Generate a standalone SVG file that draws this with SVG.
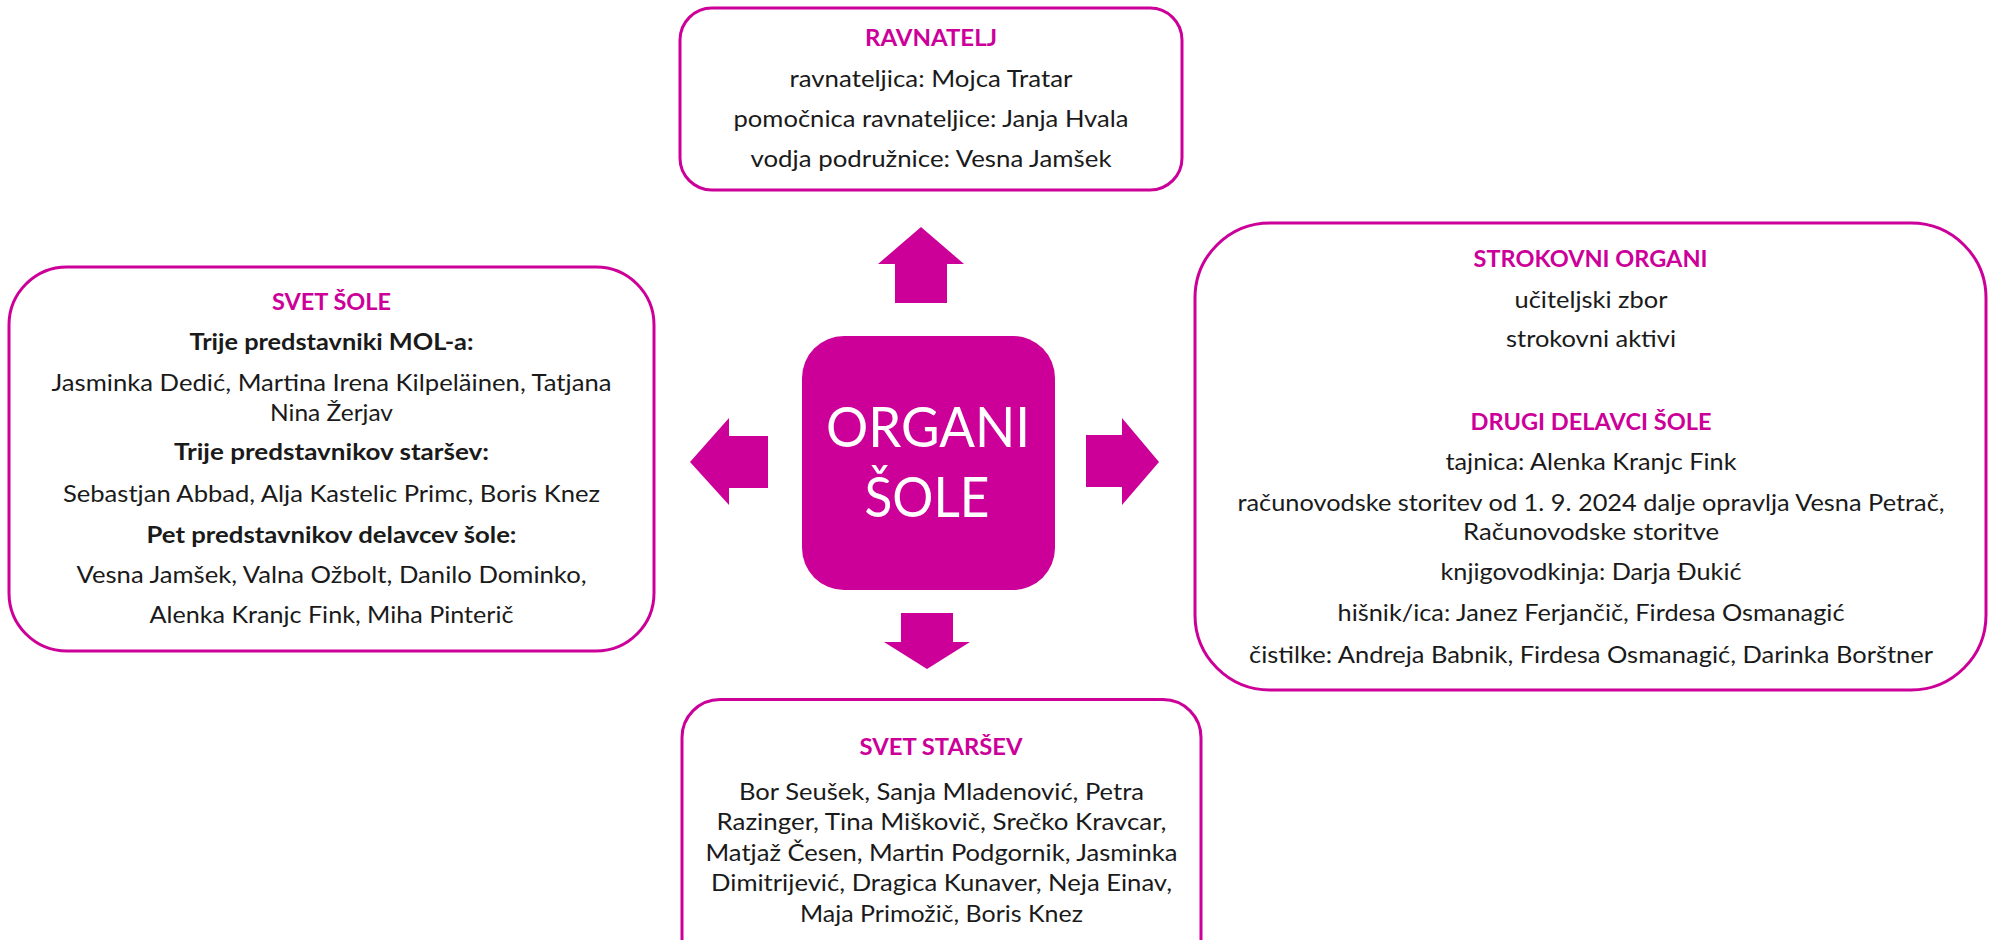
<svg xmlns="http://www.w3.org/2000/svg" width="1993" height="940" viewBox="0 0 1993 940">
<style>
.box{fill:#fff;stroke:#CC0099;stroke-width:3}
.t{font-family:Lato,"Open Sans","Liberation Sans",sans-serif;font-size:23px;fill:#1a1a1a;text-anchor:middle}
.b{font-weight:bold}
.h{font-family:Lato,"Open Sans","Liberation Sans",sans-serif;font-size:23px;font-weight:bold;fill:#CC0099;text-anchor:middle}
.arr{fill:#CC0099}
.c{font-family:Lato,"Open Sans","Liberation Sans",sans-serif;font-size:57px;fill:#fff;text-anchor:middle}
</style>
<rect width="1993" height="940" fill="#fff"/>
<g id="connectors">
<polygon class="arr" points="921,227 964,264 947,264 947,303 895,303 895,264 878,264"/>
<polygon class="arr" points="690,462 729,418 729,436 768,436 768,488 729,488 729,505"/>
<polygon class="arr" points="1159,462 1122,418 1122,435 1086,435 1086,487 1122,487 1122,505"/>
<polygon class="arr" points="927,669 970,642 953,642 953,613 901,613 901,642 884,642"/>
</g>
<g id="center">
<rect x="802" y="336" width="253" height="254" rx="42" fill="#CC0099"/>
<text class="c" x="928" y="447" textLength="204" lengthAdjust="spacingAndGlyphs">ORGANI</text>
<text class="c" x="927" y="517" textLength="125" lengthAdjust="spacingAndGlyphs">ŠOLE</text>
</g>
<g id="ravnatelj">
<rect class="box" x="680" y="8" width="502" height="182" rx="32"/>
<text class="h" x="931" y="46" textLength="132" lengthAdjust="spacingAndGlyphs">RAVNATELJ</text>
<text class="t" x="931" y="87" textLength="283" lengthAdjust="spacingAndGlyphs">ravnateljica: Mojca Tratar</text>
<text class="t" x="931" y="127" textLength="395" lengthAdjust="spacingAndGlyphs">pomočnica ravnateljice: Janja Hvala</text>
<text class="t" x="931" y="167" textLength="361" lengthAdjust="spacingAndGlyphs">vodja podružnice: Vesna Jamšek</text>
</g>
<g id="svet-sole">
<rect class="box" x="9" y="267" width="645" height="384" rx="58"/>
<text class="h" x="331.5" y="310" textLength="119" lengthAdjust="spacingAndGlyphs">SVET ŠOLE</text>
<text class="t b" x="331.5" y="350" textLength="284" lengthAdjust="spacingAndGlyphs">Trije predstavniki MOL-a:</text>
<text class="t" x="331.5" y="390.5" textLength="560" lengthAdjust="spacingAndGlyphs">Jasminka Dedić, Martina Irena Kilpeläinen, Tatjana</text>
<text class="t" x="331.5" y="420.5" textLength="123" lengthAdjust="spacingAndGlyphs">Nina Žerjav</text>
<text class="t b" x="331.5" y="460" textLength="315" lengthAdjust="spacingAndGlyphs">Trije predstavnikov staršev:</text>
<text class="t" x="331.5" y="501.5" textLength="537" lengthAdjust="spacingAndGlyphs">Sebastjan Abbad, Alja Kastelic Primc, Boris Knez</text>
<text class="t b" x="331.5" y="542.5" textLength="370" lengthAdjust="spacingAndGlyphs">Pet predstavnikov delavcev šole:</text>
<text class="t" x="331.5" y="582.5" textLength="510" lengthAdjust="spacingAndGlyphs">Vesna Jamšek, Valna Ožbolt, Danilo Dominko,</text>
<text class="t" x="331.5" y="622.5" textLength="364" lengthAdjust="spacingAndGlyphs">Alenka Kranjc Fink, Miha Pinterič</text>
</g>
<g id="strokovni">
<rect class="box" x="1195" y="223" width="791" height="467" rx="75"/>
<text class="h" x="1590.5" y="266.5" textLength="234" lengthAdjust="spacingAndGlyphs">STROKOVNI ORGANI</text>
<text class="t" x="1591" y="308" textLength="153" lengthAdjust="spacingAndGlyphs">učiteljski zbor</text>
<text class="t" x="1591" y="346.5" textLength="170" lengthAdjust="spacingAndGlyphs">strokovni aktivi</text>
<text class="h" x="1591" y="429.5" textLength="241" lengthAdjust="spacingAndGlyphs">DRUGI DELAVCI ŠOLE</text>
<text class="t" x="1591" y="470" textLength="291" lengthAdjust="spacingAndGlyphs">tajnica: Alenka Kranjc Fink</text>
<text class="t" x="1591" y="511" textLength="707" lengthAdjust="spacingAndGlyphs">računovodske storitev od 1. 9. 2024 dalje opravlja Vesna Petrač,</text>
<text class="t" x="1591" y="540" textLength="256" lengthAdjust="spacingAndGlyphs">Računovodske storitve</text>
<text class="t" x="1591" y="580" textLength="301" lengthAdjust="spacingAndGlyphs">knjigovodkinja: Darja Đukić</text>
<text class="t" x="1591" y="620.5" textLength="507" lengthAdjust="spacingAndGlyphs">hišnik/ica: Janez Ferjančič, Firdesa Osmanagić</text>
<text class="t" x="1591" y="662.5" textLength="684" lengthAdjust="spacingAndGlyphs">čistilke: Andreja Babnik, Firdesa Osmanagić, Darinka Borštner</text>
</g>
<g id="svet-starsev">
<rect class="box" x="682" y="699.5" width="519" height="290" rx="38"/>
<text class="h" x="941" y="755" textLength="163" lengthAdjust="spacingAndGlyphs">SVET STARŠEV</text>
<text class="t" x="941.5" y="799.5" textLength="405" lengthAdjust="spacingAndGlyphs">Bor Seušek, Sanja Mladenović, Petra</text>
<text class="t" x="941.5" y="830" textLength="450" lengthAdjust="spacingAndGlyphs">Razinger, Tina Miškovič, Srečko Kravcar,</text>
<text class="t" x="941.5" y="860.5" textLength="472" lengthAdjust="spacingAndGlyphs">Matjaž Česen, Martin Podgornik, Jasminka</text>
<text class="t" x="941.5" y="891" textLength="461" lengthAdjust="spacingAndGlyphs">Dimitrijević, Dragica Kunaver, Neja Einav,</text>
<text class="t" x="941.5" y="921.5" textLength="283" lengthAdjust="spacingAndGlyphs">Maja Primožič, Boris Knez</text>
</g>
</svg>
